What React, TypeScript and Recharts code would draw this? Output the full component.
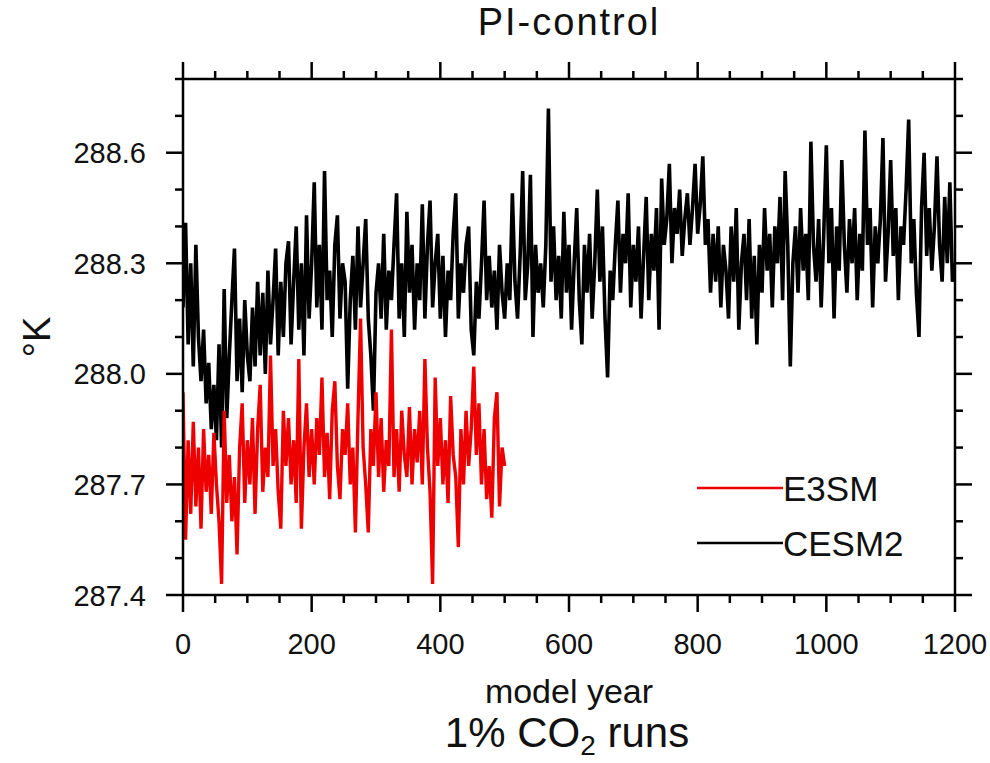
import { LineChart, Line, XAxis, YAxis, Legend, Label } from "recharts";

// one sample every 4 model years
const STEP = 4;

const cesm2Temp = [
  288.18, 288.41, 288.08, 288.3, 288.02, 288.35, 288.1, 287.98, 288.12, 287.92,
  288.03, 287.85, 287.97, 287.82, 288.08, 287.8, 288.23, 287.88, 288.05, 288.2,
  288.34, 287.98, 288.15, 287.95, 288.2, 288.05, 287.98, 288.18, 288.02, 288.25,
  288.05, 288.22, 288.0, 288.28, 288.08, 288.2, 288.34, 288.05, 288.25, 288.1,
  288.3, 288.36, 288.08, 288.25, 288.4, 288.12, 288.3, 288.05, 288.43, 288.15,
  288.3, 288.52, 288.18, 288.35, 288.12, 288.55, 288.2, 288.28, 288.1, 288.35,
  288.43, 288.15, 288.3, 288.25, 287.96, 288.2, 288.32, 288.12, 288.4, 288.18,
  288.3, 288.42, 288.15, 288.05, 287.9, 288.22, 288.3, 288.15, 288.38, 288.12,
  288.28, 288.2, 288.35, 288.49, 288.15, 288.3, 288.1, 288.44, 288.22, 288.35,
  288.12, 288.3, 288.2, 288.46, 288.15, 288.35, 288.47, 288.18, 288.3, 288.38,
  288.15, 288.32, 288.1, 288.28, 288.2, 288.38, 288.49, 288.15, 288.3, 288.22,
  288.35, 288.4, 288.12, 288.05, 288.25, 288.15, 288.3, 288.47, 288.2, 288.32,
  288.18, 288.28, 288.12, 288.35, 288.22, 288.15, 288.3, 288.2, 288.49, 288.25,
  288.15, 288.32, 288.55, 288.2, 288.3, 288.54, 288.1, 288.35, 288.22, 288.3,
  288.18, 288.35, 288.72, 288.25, 288.4, 288.2, 288.32, 288.15, 288.44, 288.22,
  288.35, 288.12, 288.3, 288.45, 288.2, 288.08, 288.35, 288.22, 288.38, 288.15,
  288.3, 288.5, 288.25, 288.4, 288.15, 287.99, 288.28, 288.2, 288.35, 288.47,
  288.22, 288.38, 288.3, 288.49, 288.18, 288.35, 288.25, 288.4, 288.15, 288.32,
  288.48, 288.2, 288.38, 288.28, 288.45, 288.12, 288.53, 288.35, 288.42, 288.57,
  288.3, 288.45, 288.38, 288.5, 288.32, 288.42, 288.49, 288.35, 288.45, 288.57,
  288.38, 288.46, 288.59, 288.35, 288.42, 288.22, 288.38, 288.25, 288.4, 288.18,
  288.35, 288.28, 288.15, 288.4, 288.25, 288.45, 288.12, 288.3, 288.38, 288.2,
  288.42, 288.15, 288.32, 288.08, 288.35, 288.22, 288.45, 288.28, 288.38, 288.18,
  288.4, 288.3, 288.48, 288.2, 288.55, 288.35, 288.02, 288.3, 288.4, 288.22,
  288.45, 288.28, 288.38, 288.2, 288.63, 288.35, 288.25, 288.42, 288.18, 288.38,
  288.62, 288.3, 288.45, 288.15, 288.4, 288.28, 288.58, 288.35, 288.22, 288.42,
  288.3, 288.45, 288.2, 288.38, 288.28, 288.66, 288.35, 288.45, 288.18, 288.4,
  288.3, 288.42, 288.64, 288.25, 288.38, 288.58, 288.32, 288.45, 288.2, 288.4,
  288.35, 288.5, 288.69, 288.3, 288.42, 288.22, 288.1, 288.45, 288.6, 288.32,
  288.45, 288.28, 288.4, 288.59, 288.35, 288.25, 288.48, 288.3, 288.52, 288.25,
  288.3,
];

const e3smTemp = [
  287.95, 287.55, 287.82, 287.62, 287.87, 287.64, 287.8, 287.58, 287.85, 287.68,
  287.78, 287.62, 287.84, 287.7, 287.6, 287.43, 287.9, 287.65, 287.78, 287.6,
  287.72, 287.51, 287.8, 287.92, 287.65, 287.82, 287.7, 287.88, 287.62, 287.85,
  287.97, 287.68, 287.8, 287.72, 288.05, 287.75, 287.85, 287.68, 287.58, 287.9,
  287.75, 287.88, 287.7, 287.82, 287.65, 288.04, 287.58, 287.8, 287.92, 287.72,
  287.85, 287.7, 287.88, 287.78, 287.99, 287.72, 287.84, 287.66, 287.9, 287.98,
  287.75, 287.66, 287.85, 287.78, 287.92, 287.7, 287.8, 287.57, 287.88, 288.15,
  287.8, 287.7, 287.57, 287.85, 287.75, 287.95, 287.72, 287.88, 287.68, 287.82,
  287.75, 288.12, 287.72, 287.85, 287.68, 287.9, 287.78, 287.72, 287.91, 287.7,
  287.85, 287.76, 287.9, 287.7, 288.04, 287.8, 287.68, 287.43, 287.99, 287.75,
  287.88, 287.7, 287.82, 287.65, 287.94, 287.78, 287.72, 287.53, 287.85, 287.7,
  287.9, 287.75, 287.85, 288.02, 287.78, 287.92, 287.7, 287.85, 287.66, 287.75,
  287.61, 287.88, 287.95, 287.64, 287.8, 287.75,
];

const xTicks = [
  0, 50, 100, 150, 200, 250, 300, 350, 400, 450, 500, 550, 600,
  650, 700, 750, 800, 850, 900, 950, 1000, 1050, 1100, 1150, 1200,
];
const yTicks = [
  287.4, 287.5, 287.6, 287.7, 287.8, 287.9, 288.0, 288.1,
  288.2, 288.3, 288.4, 288.5, 288.6, 288.7, 288.8,
];
const yLabels = [287.4, 287.7, 288.0, 288.3, 288.6];
const legendOrder = ["E3SM", "CESM2"];

const cesm2Data = cesm2Temp.map((t, i) => ({ year: i * STEP, temp: t }));
const e3smData = e3smTemp.map((t, i) => ({ year: i * STEP, temp: t }));

const FONT = '"Liberation Sans", Arial, Helvetica, sans-serif';
const INK = "#000";
const RED = "#ee0000";
const MAJOR = 17;
const MINOR = 8;
const axisLine = { stroke: INK, strokeWidth: 2.5 };

const isMajorX = (v: number) => v % 200 === 0;
const isMajorY = (v: number) => yLabels.some((l) => Math.abs(l - v) < 1e-6);

function BottomTick({ x, y, payload }: any) {
  const major = isMajorX(payload.value);
  return (
    <g>
      <line x1={x} x2={x} y1={y} y2={y + (major ? MAJOR : MINOR)} stroke={INK} strokeWidth={2.5} />
      {major && (
        <text x={x} y={y + 59} textAnchor="middle" fontSize={29} fontFamily={FONT} fill="#111">
          {payload.value}
        </text>
      )}
    </g>
  );
}

function TopTick({ x, y, payload }: any) {
  const len = isMajorX(payload.value) ? MAJOR : MINOR;
  return <line x1={x} x2={x} y1={y} y2={y - len} stroke={INK} strokeWidth={2.5} />;
}

function LeftTick({ x, y, payload }: any) {
  const major = isMajorY(payload.value);
  return (
    <g>
      <line x1={x} x2={x - (major ? MAJOR : MINOR)} y1={y} y2={y} stroke={INK} strokeWidth={2.5} />
      {major && (
        <text x={x - 37} y={y + 10.5} textAnchor="end" fontSize={29} fontFamily={FONT} fill="#111">
          {payload.value.toFixed(1)}
        </text>
      )}
    </g>
  );
}

function RightTick({ x, y, payload }: any) {
  const len = isMajorY(payload.value) ? MAJOR : MINOR;
  return <line x1={x} x2={x + len} y1={y} y2={y} stroke={INK} strokeWidth={2.5} />;
}

function LegendBox({ payload }: any) {
  const items = [...(payload ?? [])].sort(
    (a: any, b: any) => legendOrder.indexOf(a.value) - legendOrder.indexOf(b.value)
  );
  return (
    <svg width={240} height={100} style={{ overflow: "visible" }}>
      {items.map((it: any, i: number) => (
        <g key={it.value}>
          <line x1={0} x2={86} y1={18 + i * 55} y2={18 + i * 55} stroke={it.color} strokeWidth={2.5} />
          <text x={86} y={31 + i * 55} fontSize={35} fontFamily={FONT} fill="#111">
            {it.value}
          </text>
        </g>
      ))}
    </svg>
  );
}

export default function App() {
  return (
    <div style={{ position: "absolute", left: 0, top: 0, width: 990, height: 763, background: "#fff" }}>
      <LineChart width={990} height={763} margin={{ top: 0, right: 0, bottom: 0, left: 0 }}>
        <XAxis
          xAxisId="b"
          type="number"
          dataKey="year"
          domain={[0, 1200]}
          ticks={xTicks}
          interval={0}
          height={168}
          tickSize={0}
          tickMargin={0}
          tickLine={false}
          axisLine={axisLine}
          tick={(p: any) => <BottomTick {...p} />}
          allowDataOverflow
        >
          <Label
            content={({ viewBox }: any) => (
              <text x={viewBox.x + viewBox.width / 2} y={viewBox.y + 108} textAnchor="middle" fontSize={34} fontFamily={FONT} fill="#111">
                model year
              </text>
            )}
          />
          <Label
            content={({ viewBox }: any) => (
              <text x={viewBox.x + viewBox.width / 2 - 2} y={viewBox.y + 152} textAnchor="middle" fontSize={42} fontFamily={FONT} fill="#111">
                1% CO
                <tspan fontSize={28} dy={8}>2</tspan>
                <tspan dy={-8}> runs</tspan>
              </text>
            )}
          />
        </XAxis>
        <XAxis
          xAxisId="t"
          orientation="top"
          type="number"
          dataKey="year"
          domain={[0, 1200]}
          ticks={xTicks}
          interval={0}
          height={79}
          tickSize={0}
          tickMargin={0}
          tickLine={false}
          axisLine={axisLine}
          tick={(p: any) => <TopTick {...p} />}
          allowDataOverflow
        >
          <Label
            content={({ viewBox }: any) => (
              <text x={viewBox.x + viewBox.width / 2} y={35} textAnchor="middle" fontSize={38} fontFamily={FONT} fill="#111" letterSpacing={2}>
                PI-control
              </text>
            )}
          />
        </XAxis>
        <YAxis
          yAxisId="l"
          type="number"
          domain={[287.4, 288.8]}
          ticks={yTicks}
          interval={0}
          width={183}
          tickSize={0}
          tickMargin={0}
          tickLine={false}
          axisLine={axisLine}
          tick={(p: any) => <LeftTick {...p} />}
          allowDataOverflow
        >
          <Label
            content={({ viewBox }: any) => {
              const cx = viewBox.x + 50;
              const cy = viewBox.y + viewBox.height / 2;
              return (
                <text x={cx} y={cy} transform={`rotate(-90, ${cx}, ${cy})`} textAnchor="middle" fontSize={38} fontFamily={FONT} fill="#111">
                  °K
                </text>
              );
            }}
          />
        </YAxis>
        <YAxis
          yAxisId="r"
          orientation="right"
          type="number"
          domain={[287.4, 288.8]}
          ticks={yTicks}
          interval={0}
          width={35}
          tickSize={0}
          tickMargin={0}
          tickLine={false}
          axisLine={axisLine}
          tick={(p: any) => <RightTick {...p} />}
          allowDataOverflow
        />
        <Line
          xAxisId="b"
          yAxisId="l"
          data={cesm2Data}
          dataKey="temp"
          name="CESM2"
          stroke={INK}
          strokeWidth={3.6}
          dot={false}
          activeDot={false}
          isAnimationActive={false}
        />
        <Line
          xAxisId="b"
          yAxisId="l"
          data={e3smData}
          dataKey="temp"
          name="E3SM"
          stroke={RED}
          strokeWidth={3.4}
          dot={false}
          activeDot={false}
          isAnimationActive={false}
        />
        <Legend
          layout="vertical"
          align="center"
          verticalAlign="middle"
          content={(p: any) => <LegendBox {...p} />}
          wrapperStyle={{ left: 697, top: 470, width: 240, height: 100 }}
        />
      </LineChart>
    </div>
  );
}
